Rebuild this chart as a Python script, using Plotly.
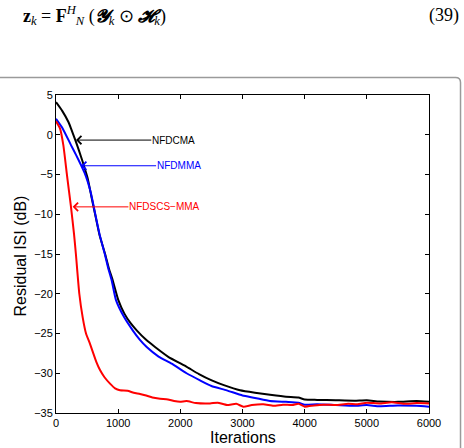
import plotly.graph_objects as go

# ---------------- data ----------------
nfdcma_x = [0, 100, 200, 241, 311, 370, 429, 510, 570, 632, 700, 790, 850, 912, 1003, 1100, 1200, 1298,
            1450, 1593, 1800, 2103, 2300, 2505, 2700, 2960, 3200, 3443, 3700, 3900, 4000, 4200, 4500,
            4800, 5000, 5200, 5500, 5800, 6000]
nfdcma_y = [4.1, 3.0, 1.6, 0.8, -0.67, -2.0, -3.4, -5.5, -7.8, -10.1, -12.6, -15.0, -16.8, -18.3, -20.8,
            -22.5, -23.7, -24.6, -25.8, -26.7, -27.9, -29.2, -30.1, -30.9, -31.5, -32.15, -32.45, -32.7,
            -32.95, -33.05, -33.3, -33.35, -33.4, -33.45, -33.4, -33.55, -33.6, -33.5, -33.6]

nfdmma_x = [0, 107, 241, 320, 402, 460, 510, 563, 632, 700, 785, 840, 895, 965, 1100, 1234, 1350, 1459,
            1650, 1861, 2100, 2317, 2500, 2746, 3000, 3200, 3443, 3700, 3900, 4000, 4200, 4500, 4800,
            5000, 5200, 5500, 5800, 6000]
nfdmma_y = [2.0, 0.8, -1.3, -2.5, -3.8, -4.8, -5.9, -7.4, -10.0, -12.5, -15.0, -16.8, -18.3, -20.8,
            -23.0, -24.6, -25.8, -26.7, -27.9, -28.8, -30.0, -30.9, -31.6, -32.15, -32.8, -33.1, -33.5,
            -33.6, -33.7, -33.95, -33.9, -34.0, -34.1, -34.0, -34.15, -34.05, -34.1, -34.2]

nfdscs_x = [0, 64, 118, 177, 241, 290, 320, 375, 430, 483, 547, 600, 650, 708, 780, 869, 950, 1030,
            1150, 1250, 1352, 1450, 1550, 1674, 1800, 1900, 1995, 2100, 2250, 2478, 2600, 2750, 2900,
            3014, 3150, 3336, 3500, 3650, 3800, 3900, 4000, 4150, 4300, 4500, 4700, 4850, 5000, 5200,
            5400, 5600, 5800, 6000]
nfdscs_y = [1.7, 0.8, -1.3, -5.1, -9.07, -12.5, -15.0, -20.0, -23.0, -25.0, -26.3, -27.5, -28.6, -29.6,
            -30.5, -31.3, -31.9, -32.15, -32.2, -32.45, -32.6, -32.8, -33.05, -33.2, -33.3, -33.5,
            -33.6, -33.5, -33.75, -33.8, -33.7, -34.0, -33.85, -34.2, -34.0, -33.9, -34.1, -33.95,
            -34.0, -33.85, -34.2, -34.05, -33.95, -34.0, -33.85, -33.9, -33.7, -33.8, -33.65, -33.85,
            -33.75, -33.8]

series_names = ["NFDCMA", "NFDMMA", "NFDSCS−MMA"]
series_colors = ["#000000", "#0000ff", "#ff0000"]

x_ticks = [0, 1000, 2000, 3000, 4000, 5000, 6000]
y_ticks = [5, 0, -5, -10, -15, -20, -25, -30, -35]

# annotation arrow tips and label positions (data units)
tip_x = [322, 402, 268]
tip_y = [-0.67, -3.9, -9.07]
label_x = [1887, 1972, 1744]

# ---------------- figure ----------------
fig = go.Figure()
for xs, ys, name, col in [(nfdcma_x, nfdcma_y, series_names[0], series_colors[0]),
                          (nfdmma_x, nfdmma_y, series_names[1], series_colors[1]),
                          (nfdscs_x, nfdscs_y, series_names[2], series_colors[2])]:
    fig.add_trace(go.Scatter(x=xs, y=ys, mode="lines", name=name,
                             line=dict(color=col, width=2, shape="spline", smoothing=0.5)))

for i in range(3):
    fig.add_annotation(x=tip_x[i], y=tip_y[i], ax=label_x[i], ay=tip_y[i],
                       xref="x", yref="y", axref="x", ayref="y",
                       text=series_names[i], showarrow=True, arrowhead=4, arrowsize=1.6,
                       arrowwidth=1, arrowcolor=series_colors[i], standoff=0, borderpad=0,
                       font=dict(family="Liberation Sans, Arial", size=10, color=series_colors[i]))

# axis titles
fig.add_annotation(x=0.5, y=-0.0755, xref="paper", yref="paper", text="Iterations", showarrow=False,
                   xanchor="center", yanchor="middle",
                   font=dict(family="Liberation Sans, Arial", size=16, color="black"))
fig.add_annotation(x=-0.094, y=0.495, xref="paper", yref="paper", text="Residual ISI (dB)",
                   showarrow=False, textangle=-90, xanchor="center", yanchor="middle",
                   font=dict(family="Liberation Sans, Arial", size=16, color="black"))

# equation line above the figure
fig.add_annotation(x=-0.093, y=1.25, xref="paper", yref="paper", xanchor="left", yanchor="middle",
                   showarrow=False,
                   text="<b>z</b><i><sub>k</sub></i> = <b>F</b><i><sup>H</sup></i><i><sub>N</sub></i> "
                        "(<b><i>𝓨</i></b><i><sub>k</sub></i> ⊙ <b><i>𝓗</i></b><i><sub>k</sub></i>)",
                   font=dict(family="Liberation Serif, Times New Roman, serif", size=18, color="black"))
fig.add_annotation(x=1.0845, y=1.25, xref="paper", yref="paper", xanchor="right", yanchor="middle",
                   showarrow=False, text="(39)",
                   font=dict(family="Liberation Serif, Times New Roman, serif", size=18, color="black"))

# gray frame around the figure (page box)
fig.add_shape(type="path", xref="paper", yref="paper",
              path="M -0.3,1.055 L 1.0711,1.055 Q 1.0845,1.055 1.0845,1.0393 L 1.0845,-0.3",
              line=dict(color="#9a9a9a", width=1.5))

axis_common = dict(showline=True, linecolor="black", linewidth=1, mirror="ticks", ticks="inside",
                   ticklen=4, tickwidth=1, tickcolor="black", showgrid=False, zeroline=False,
                   tickfont=dict(family="Liberation Sans, Arial", size=11, color="black"))
fig.update_xaxes(range=[0, 6000], tickvals=x_ticks, **axis_common)
fig.update_yaxes(range=[-35, 5], tickvals=y_ticks, **axis_common)

fig.update_layout(width=464, height=448, margin=dict(l=56, r=35, t=95, b=35, autoexpand=False),
                  paper_bgcolor="white", plot_bgcolor="white", showlegend=False)

fig.write_html("out.html")
